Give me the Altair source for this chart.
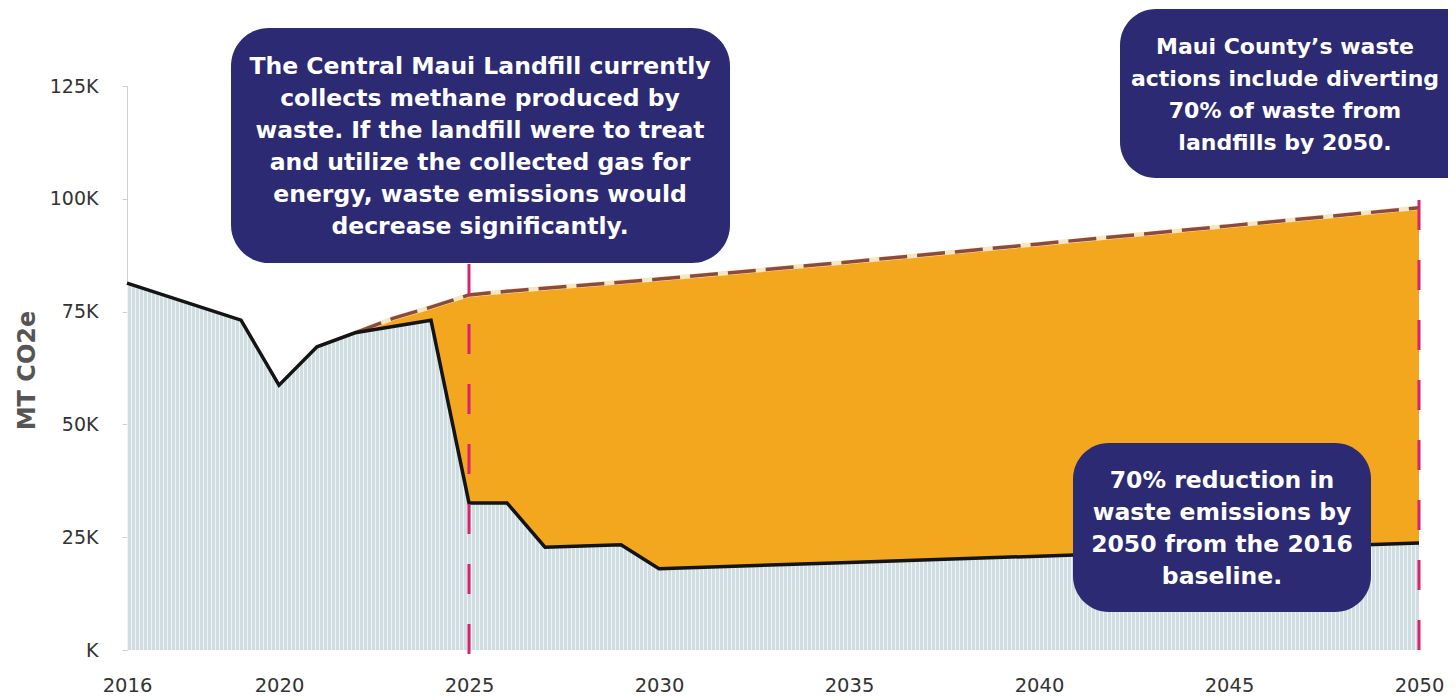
import altair as alt
import pandas as pd

# ---------------- data ----------------
years_actual = [2016, 2019, 2020, 2021, 2022, 2024, 2025, 2026, 2027, 2029, 2030, 2035, 2040, 2045, 2050]
actual_mt = [81300, 73100, 58700, 67200, 70300, 73100, 32600, 32600, 22800, 23300, 18000, 19400, 20800, 22300, 23700]

years_proj = [2022, 2023, 2024, 2025, 2026, 2030, 2035, 2040, 2045, 2050]
proj_mt = [70300, 73500, 76000, 78700, 79500, 82200, 86000, 90000, 94000, 98000]

marker_years = [2025, 2050]

x_ticks = [2016, 2020, 2025, 2030, 2035, 2040, 2045, 2050]
y_ticks = [0, 25000, 50000, 75000, 100000, 125000]

note_landfill = ["The Central Maui Landfill currently",
                 "collects methane produced by",
                 "waste. If the landfill were to treat",
                 "and utilize the collected gas for",
                 "energy, waste emissions would",
                 "decrease significantly."]
note_county = ["Maui County\u2019s waste",
               "actions include diverting",
               "70% of waste from",
               "landfills by 2050."]
note_reduction = ["70% reduction in",
                  "waste emissions by",
                  "2050 from the 2016",
                  "baseline."]

actual_df = pd.DataFrame({"year": years_actual, "value": actual_mt})
proj_df = pd.DataFrame({"year": years_proj, "value": proj_mt})
marker_df = pd.DataFrame({"year": marker_years})
one_row = pd.DataFrame({"k": [0]})

# ---------------- styles ----------------
W, H = 1292, 564
ORANGE = "#f3a71f"
NAVY = "#2b2a73"
PINK = "#d8236f"
BROWN = "#8d4a3b"

# light striped texture for the actual-emissions area
stops = []
period = 4.0
n = int(W / period)
for i in range(n):
    a = i * period / W
    b = (i * period + 1.4) / W
    c = (i + 1) * period / W
    stops += [alt.GradientStop(offset=a, color="#eef3f5"),
              alt.GradientStop(offset=b, color="#eef3f5"),
              alt.GradientStop(offset=b, color="#d0dde1"),
              alt.GradientStop(offset=min(c, 1.0), color="#d0dde1")]
stripe = alt.LinearGradient(gradient="linear", stops=stops, x1=0, x2=1, y1=0, y2=0)

xs = alt.Scale(domain=[2016, 2050], nice=False, zero=False)
ys = alt.Scale(domain=[0, 125000], nice=False, zero=True)

x_axis = alt.Axis(values=x_ticks, format="d", domain=False, ticks=False, grid=False,
                  labelFont="DejaVu Sans", labelFontSize=19.5, labelColor="#333333",
                  labelPadding=35, labelBaseline="middle", labelFlush=False)
y_axis = alt.Axis(values=y_ticks, grid=False, domain=True, domainColor="#cfcfcf", domainWidth=1,
                  ticks=True, tickSize=5, tickColor="#cfcfcf",
                  labelExpr="datum.value == 0 ? 'K' : (datum.value / 1000) + 'K'",
                  labelFont="DejaVu Sans", labelFontSize=19, labelColor="#333333",
                  labelPadding=24,
                  title="MT CO2e", titleFont="DejaVu Sans", titleFontSize=24, titleFontWeight="bold",
                  titleColor="#555555", titleAngle=270, titleX=-100, titleY=284,
                  titleAlign="center", titleBaseline="middle")

X = alt.X("year:Q", scale=xs, axis=x_axis, title=None)
Y = alt.Y("value:Q", scale=ys, axis=y_axis)

orange_area = alt.Chart(proj_df).mark_area(color=ORANGE).encode(x=X, y=Y)
gray_area = alt.Chart(actual_df).mark_area(color=stripe).encode(x=X, y=Y)
proj_under = alt.Chart(proj_df).mark_line(color="#f6e6c2", strokeWidth=4.5).encode(x=X, y=Y)
proj_line = alt.Chart(proj_df).mark_line(color=BROWN, strokeWidth=3.5, strokeDash=[28, 10]).encode(x=X, y=Y)
actual_line = alt.Chart(actual_df).mark_line(color="#141414", strokeWidth=3.5).encode(x=X, y=Y)

rule_2025 = alt.Chart(marker_df).transform_filter("datum.year == 2025").mark_rule(
    color=PINK, strokeWidth=3, strokeDash=[30, 30]).encode(x=X, y=alt.value(178), y2=alt.value(579))
rule_2050 = alt.Chart(marker_df).transform_filter("datum.year == 2050").mark_rule(
    color=PINK, strokeWidth=3, strokeDash=[30, 30]).encode(x=X, y=alt.value(114), y2=alt.value(579))


def note(lines, x0, x1, y0, y1, tx, ty, radius, size=23.5):
    box = alt.Chart(one_row).mark_rect(color=NAVY, cornerRadius=radius).encode(
        x=alt.value(x0), x2=alt.value(x1), y=alt.value(y0), y2=alt.value(y1))
    txt = alt.Chart(one_row).mark_text(
        text=lines, font="DejaVu Sans", fontWeight="bold", fontSize=size, lineHeight=32,
        color="white", align="center", baseline="middle").encode(
        x=alt.value(tx), y=alt.value(ty))
    return [box, txt]


notes = (note(note_landfill, 104, 603, -58, 177, 353, -19, 38)
         + note(note_county, 993, 1360, -77, 92, 1158, -39, 36, 22)
         + note(note_reduction, 946, 1244, 357, 526, 1095, 395, 36))

chart = alt.layer(orange_area, gray_area, proj_under, proj_line, actual_line,
                  rule_2025, rule_2050, *notes).properties(
    width=W, height=H,
    autosize=alt.AutoSizeParams(type="none"),
    padding={"left": 119, "top": 78, "right": 29, "bottom": 48},
    background="white",
).configure_view(stroke=None)

chart.save("out.html", embed_options={"renderer": "svg", "actions": False})
